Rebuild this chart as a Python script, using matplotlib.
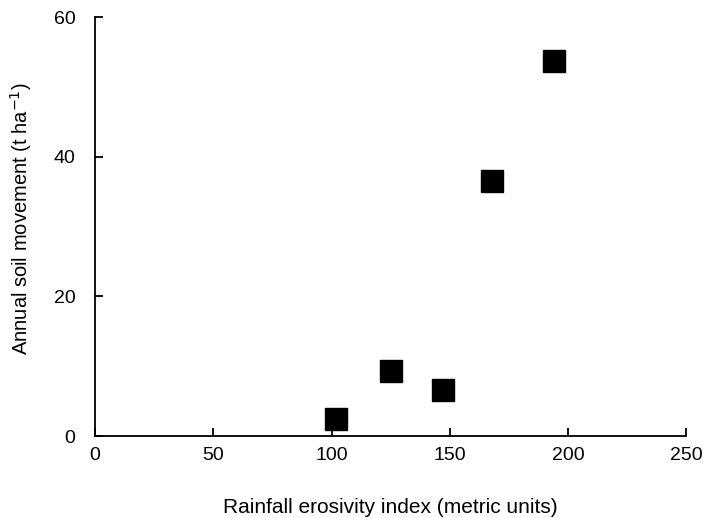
import matplotlib
matplotlib.use("Agg")
import matplotlib.pyplot as plt

plt.rcParams['font.family'] = ['Liberation Sans', 'DejaVu Sans']

erosivity = [102, 125, 147, 168, 194]
soil_movement = [2.4, 9.3, 6.6, 36.6, 53.7]
xticks = [0, 50, 100, 150, 200, 250]
yticks = [0, 20, 40, 60]

fig = plt.figure(figsize=(7.09, 5.18), dpi=100)
ax = fig.add_axes([0.134, 0.158, 0.834, 0.809])
ax.plot(erosivity, soil_movement, linestyle='none', marker='s', markersize=16,
        color='black', clip_on=False)
ax.set_xlim(0, 250)
ax.set_ylim(0, 60)
ax.set_xticks(xticks)
ax.set_yticks(yticks)
for s in ['top', 'right']:
    ax.spines[s].set_visible(False)
for s in ['left', 'bottom']:
    ax.spines[s].set_linewidth(1.3)
ax.tick_params(direction='in', length=6, width=1.3, labelsize=14)
ax.tick_params(axis='x', pad=8)
ax.tick_params(axis='y', pad=14)
ax.set_xlabel('Rainfall erosivity index (metric units)', fontsize=15, labelpad=24)
ax.set_ylabel('Annual soil movement (t ha$^{-1}$)', fontsize=14.5, labelpad=14)
ax.yaxis.set_label_coords(-0.103, 0.52)
fig.savefig('out.png', dpi=100)
